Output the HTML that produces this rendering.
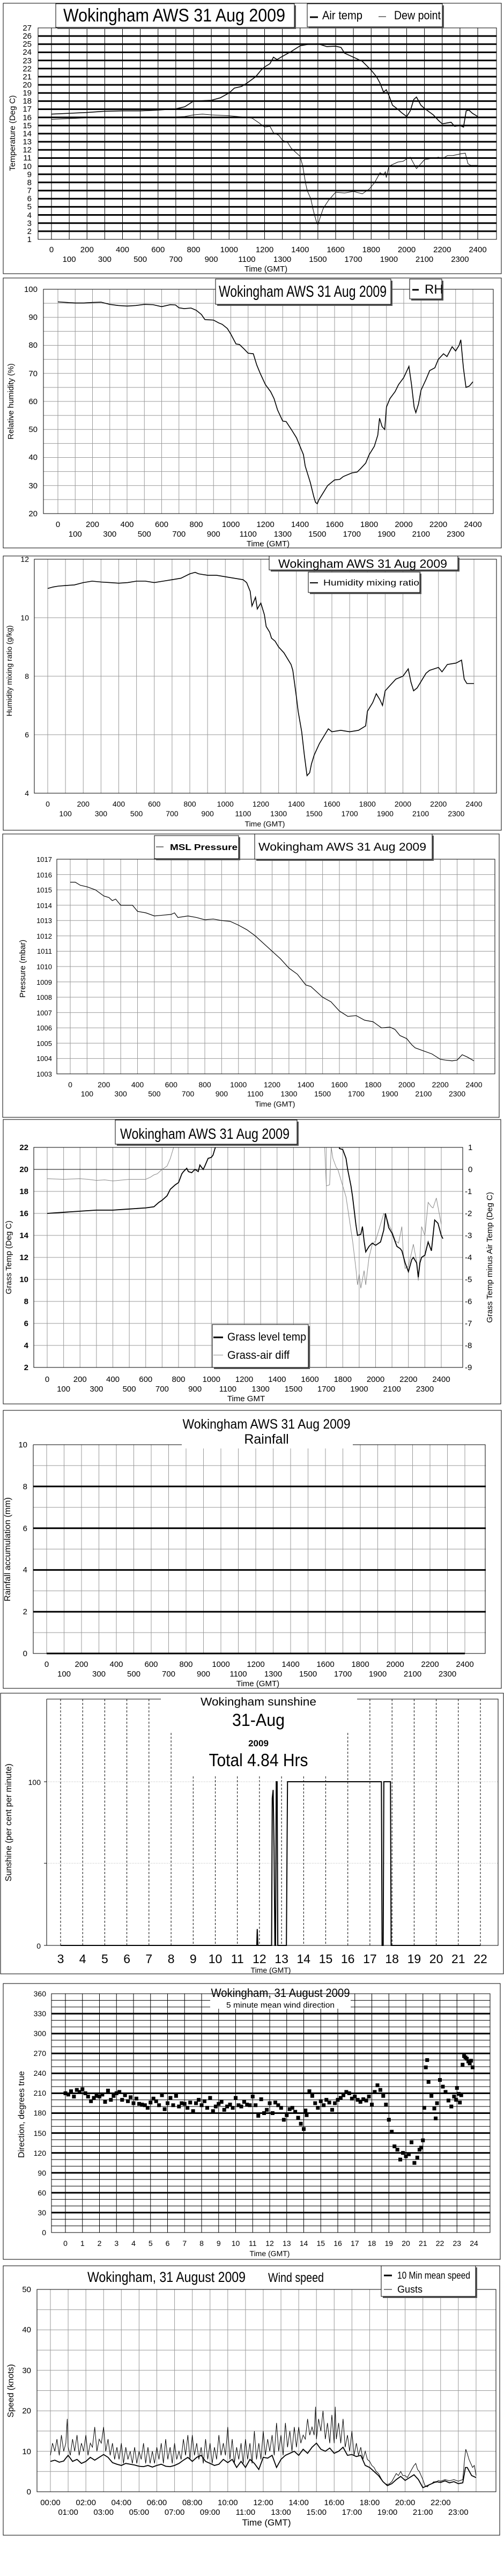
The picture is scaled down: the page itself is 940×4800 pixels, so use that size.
<!DOCTYPE html>
<html><head><meta charset="utf-8"><style>
html,body{margin:0;padding:0;background:#fff}
svg{display:block}
text{font-family:"Liberation Sans Narrow","Liberation Sans",sans-serif;fill:#000}
.s{font-family:"Liberation Sans",sans-serif}
polyline,path{vector-effect:non-scaling-stroke}
.g{stroke:#999;stroke-width:1;fill:none}
.k{stroke:#000;fill:none}
</style></head><body>
<svg width="940" height="4800" viewBox="0 0 940 4800" xmlns="http://www.w3.org/2000/svg">
<defs>
<clipPath id="c5"><rect x="63" y="2138" width="800" height="410"/></clipPath>
</defs>
<rect width="940" height="4800" fill="#fff"/>

<!-- ===== Panel 1: Temperature ===== -->
<rect x="6" y="6" width="929" height="504" class="k" stroke-width="1"/>
<rect x="71" y="52" width="855" height="394" class="k" stroke-width="1"/>
<g transform="translate(96,461.154) scale(33.125,-15.154)">
<path class="k" stroke-width="1" d="M0 1V27M1 1V27M2 1V27M3 1V27M4 1V27M5 1V27M6 1V27M7 1V27M8 1V27M9 1V27M10 1V27M11 1V27M12 1V27M13 1V27M14 1V27M15 1V27M16 1V27M17 1V27M18 1V27M19 1V27M20 1V27M21 1V27M22 1V27M23 1V27M24 1V27"/>
<path class="k" stroke-width="3" d="M-0.755 2H25.06M-0.755 3H25.06M-0.755 4H25.06M-0.755 5H25.06M-0.755 6H25.06M-0.755 7H25.06M-0.755 8H25.06M-0.755 9H25.06M-0.755 10H25.06M-0.755 11H25.06M-0.755 12H25.06M-0.755 13H25.06M-0.755 14H25.06M-0.755 15H25.06M-0.755 16H25.06M-0.755 17H25.06M-0.755 18H25.06M-0.755 19H25.06M-0.755 20H25.06M-0.755 21H25.06M-0.755 22H25.06M-0.755 23H25.06M-0.755 24H25.06M-0.755 25H25.06M-0.755 26H25.06"/>
<polyline class="k" stroke-width="1.6" points="0,16.4 1,16.5 2,16.6 3,16.75 4,16.8 5,16.8 6,16.9 7,17.05 7.5,17.3 8,18 8.5,18.05 9,18.1 9.5,18.4 10,19 10.3,19.6 10.7,19.8 11,20.2 11.5,21 11.8,21.8 12,22.2 12.3,22.6 12.5,23.4 12.7,23.1 13,23.5 13.5,24.1 14,24.8 14.5,25.0 15,25.05 15.5,24.7 16,24.75 16.3,24.6 16.5,23.9 17,23.4 17.5,22.9 18,21.8 18.3,21 18.5,20.2 18.7,19.1 18.85,19.4 19,18.7 19.2,17.5 19.5,17 19.7,16.6 20,16.1 20.2,16.8 20.4,18.2 20.55,18.5 20.8,17.5 21,17.1 21.5,16.3 21.8,15.6 22,15.2 22.5,15.4 22.7,14.9 23,15 23.2,14.8 23.35,16.8 23.5,16.9 23.7,16.5 24,16.1"/>
<polyline class="k" stroke-width="1" points="0,15.75 1,15.85 2,15.95 3,15.95 4,15.95 5,15.95 6,16 7,16.05 7.5,16.1 8,16.3 8.5,16.4 9,16.3 10,16.2 11,16.0 11.3,15.9 11.7,15.3 12,14.8 12.3,14.9 12.5,14.1 12.8,13.8 13,13.2 13.3,12.9 13.5,12.2 14,11.2 14.15,10 14.3,8 14.4,7 14.6,6 14.75,4.5 14.9,3.3 15,2.8 15.1,3.5 15.3,4.8 15.6,5.8 15.8,6.3 16,6.8 16.5,6.7 17,6.9 17.5,6.6 17.9,7.2 18.2,8 18.5,9.2 18.7,8.9 18.8,9.3 18.85,8.6 19,10 19.5,10.5 19.8,10.6 20,10.9 20.2,11.1 20.4,10.3 20.55,9.7 20.8,10.3 21,10.8 21.5,11 21.8,11.1 22,10.9 22.3,11.3 22.6,11.3 23,11.5 23.3,11.6 23.45,10.3 23.6,10.1 24,10.1"/>
</g>
<g font-size="15" text-anchor="end">
<text x="59" y="451">1</text><text x="59" y="436">2</text><text x="59" y="421">3</text><text x="59" y="406">4</text><text x="59" y="390">5</text><text x="59" y="375">6</text><text x="59" y="360">7</text><text x="59" y="345">8</text><text x="59" y="330">9</text><text x="59" y="315">10</text><text x="59" y="299">11</text><text x="59" y="284">12</text><text x="59" y="269">13</text><text x="59" y="254">14</text><text x="59" y="239">15</text><text x="59" y="224">16</text><text x="59" y="208">17</text><text x="59" y="193">18</text><text x="59" y="178">19</text><text x="59" y="163">20</text><text x="59" y="148">21</text><text x="59" y="133">22</text><text x="59" y="118">23</text><text x="59" y="102">24</text><text x="59" y="87">25</text><text x="59" y="72">26</text><text x="59" y="57">27</text>
</g>
<g font-size="15" text-anchor="middle">
<text x="96" y="470">0</text><text x="162.3" y="470">200</text><text x="228.5" y="470">400</text><text x="294.8" y="470">600</text><text x="361" y="470">800</text><text x="427.3" y="470">1000</text><text x="493.5" y="470">1200</text><text x="559.8" y="470">1400</text><text x="626" y="470">1600</text><text x="692.3" y="470">1800</text><text x="758.5" y="470">2000</text><text x="824.8" y="470">2200</text><text x="891" y="470">2400</text>
<text x="129.1" y="488">100</text><text x="195.4" y="488">300</text><text x="261.6" y="488">500</text><text x="327.9" y="488">700</text><text x="394.1" y="488">900</text><text x="460.4" y="488">1100</text><text x="526.6" y="488">1300</text><text x="592.9" y="488">1500</text><text x="659.1" y="488">1700</text><text x="725.4" y="488">1900</text><text x="791.6" y="488">2100</text><text x="857.9" y="488">2300</text>
<text x="496" y="506">Time (GMT)</text>
</g>
<text class="s" font-size="15" text-anchor="middle" transform="translate(28,248) rotate(-90)">Temperature (Deg C)</text>
<rect x="107" y="10" width="445" height="44" fill="#555"/>
<rect x="104" y="7" width="445" height="44" fill="#fff" stroke="#000"/>
<text x="118" y="40" font-size="34" textLength="414" lengthAdjust="spacingAndGlyphs">Wokingham AWS 31 Aug 2009</text>
<rect x="576" y="10" width="252" height="43" fill="#555"/>
<rect x="573" y="7" width="252" height="43" fill="#fff" stroke="#000"/>
<line x1="578" y1="32" x2="593" y2="32" stroke="#000" stroke-width="3"/>
<text x="601" y="36" font-size="22" textLength="75" lengthAdjust="spacingAndGlyphs">Air temp</text>
<line x1="706" y1="31" x2="720" y2="31" stroke="#000" stroke-width="1"/>
<text x="735" y="36" font-size="22" textLength="87" lengthAdjust="spacingAndGlyphs">Dew point</text>

<!-- ===== Panel 2: RH ===== -->
<rect x="6" y="518" width="929" height="503" class="k"/>
<g transform="translate(108,1061.5) scale(32.25,-5.225)">
<path class="g" d="M0 20V100M1 20V100M2 20V100M3 20V100M4 20V100M5 20V100M6 20V100M7 20V100M8 20V100M9 20V100M10 20V100M11 20V100M12 20V100M13 20V100M14 20V100M15 20V100M16 20V100M17 20V100M18 20V100M19 20V100M20 20V100M21 20V100M22 20V100M23 20V100M24 20V100M-0.84 25H25.18M-0.84 30H25.18M-0.84 35H25.18M-0.84 40H25.18M-0.84 45H25.18M-0.84 50H25.18M-0.84 55H25.18M-0.84 60H25.18M-0.84 65H25.18M-0.84 70H25.18M-0.84 75H25.18M-0.84 80H25.18M-0.84 85H25.18M-0.84 90H25.18M-0.84 95H25.18"/>
<polyline class="k" stroke-width="1.6" points="0,95.5 0.5,95.3 1,95.1 1.5,95.1 2,95.3 2.5,95.4 3,94.6 3.5,94.2 4,94 4.5,94.2 5,94.6 5.5,94.5 6,93.8 6.5,94.5 6.8,94.4 7,93.4 7.3,93.1 7.7,93.3 8,92.5 8.3,91 8.5,89.2 9,89 9.3,88 9.5,87.5 9.8,86 10,84 10.3,80.5 10.5,80.3 10.8,78.5 11,77.2 11.3,77 11.5,73 11.7,70 12,66 12.3,63.5 12.5,61 12.7,57 13,53 13.2,52.8 13.5,50 13.8,47 14,44 14.2,41 14.3,37 14.5,33 14.6,31 14.8,26 14.9,24 15,23.5 15.1,25 15.3,27 15.6,30 16,32 16.3,32.2 16.5,33.2 17,34.5 17.3,34.8 17.5,36 17.8,38 18,41 18.3,44 18.5,48 18.6,54 18.75,51 18.9,50 19,58 19.2,61 19.5,63.5 19.7,66 20,68.5 20.3,72.5 20.45,66 20.6,58 20.7,56 20.85,59 21,64 21.3,68 21.5,71 21.8,72 22,75 22.3,77 22.5,76 22.8,79.5 23,78 23.2,80 23.3,82 23.45,72 23.6,65 23.8,65.5 24,67"/>
</g>
<rect x="81" y="539" width="839" height="418" class="k"/>
<g font-size="15" text-anchor="end">
<text x="70" y="962">20</text><text x="70" y="910">30</text><text x="70" y="857">40</text><text x="70" y="805">50</text><text x="70" y="753">60</text><text x="70" y="701">70</text><text x="70" y="648">80</text><text x="70" y="596">90</text><text x="70" y="544">100</text>
</g>
<g font-size="15" text-anchor="middle">
<text x="108" y="982">0</text><text x="172.5" y="982">200</text><text x="237" y="982">400</text><text x="301.5" y="982">600</text><text x="366" y="982">800</text><text x="430.5" y="982">1000</text><text x="495" y="982">1200</text><text x="559.5" y="982">1400</text><text x="624" y="982">1600</text><text x="688.5" y="982">1800</text><text x="753" y="982">2000</text><text x="817.5" y="982">2200</text><text x="882" y="982">2400</text>
<text x="140.25" y="1000">100</text><text x="204.75" y="1000">300</text><text x="269.25" y="1000">500</text><text x="333.75" y="1000">700</text><text x="398.25" y="1000">900</text><text x="462.75" y="1000">1100</text><text x="527.25" y="1000">1300</text><text x="591.75" y="1000">1500</text><text x="656.25" y="1000">1700</text><text x="720.75" y="1000">1900</text><text x="785.25" y="1000">2100</text><text x="849.75" y="1000">2300</text>
<text x="500" y="1018">Time (GMT)</text>
</g>
<text class="s" font-size="15" text-anchor="middle" transform="translate(25,748) rotate(-90)">Relative humidity (%)</text>
<rect x="405" y="523" width="327" height="47" fill="#555"/>
<rect x="402" y="520" width="327" height="47" fill="#fff" stroke="#000"/>
<text x="408" y="553" font-size="30" textLength="313" lengthAdjust="spacingAndGlyphs">Wokingham AWS 31 Aug 2009</text>
<rect x="767" y="523" width="60" height="37" fill="#555"/>
<rect x="764" y="520" width="60" height="37" fill="#fff" stroke="#000"/>
<line x1="769" y1="540" x2="781" y2="540" stroke="#000" stroke-width="3"/>
<text x="792" y="547" font-size="24">RH</text>

<!-- ===== Panel 3: Mixing ratio ===== -->
<rect x="6" y="1036" width="929" height="511" class="k"/>
<g transform="translate(89,1696) scale(33.125,-54.5)">
<path class="g" d="M0 4V12M1 4V12M2 4V12M3 4V12M4 4V12M5 4V12M6 4V12M7 4V12M8 4V12M9 4V12M10 4V12M11 4V12M12 4V12M13 4V12M14 4V12M15 4V12M16 4V12M17 4V12M18 4V12M19 4V12M20 4V12M21 4V12M22 4V12M23 4V12M24 4V12M-0.76 6H25.27M-0.76 8H25.27M-0.76 10H25.27"/>
<polyline class="k" stroke-width="1.6" points="0,11 0.3,11.05 0.6,11.08 1,11.1 1.5,11.12 2,11.2 2.5,11.25 3,11.22 3.5,11.2 4,11.18 4.5,11.2 5,11.25 5.5,11.25 6,11.2 6.5,11.25 7,11.3 7.5,11.35 8,11.5 8.3,11.55 8.5,11.5 9,11.45 9.5,11.45 10,11.4 10.5,11.35 11,11.3 11.2,11.2 11.4,10.9 11.5,10.4 11.7,10.7 11.8,10.3 12,10.5 12.2,10.1 12.3,9.7 12.5,9.5 12.6,9.3 12.8,9.2 13,9.0 13.3,8.8 13.5,8.6 13.7,8.4 13.8,8.2 14,7.3 14.1,6.8 14.3,6.1 14.45,5.3 14.6,4.6 14.75,4.7 14.85,5.0 15,5.3 15.3,5.7 15.6,6.0 15.8,6.2 16,6.1 16.5,6.15 17,6.1 17.5,6.15 17.9,6.3 18,6.8 18.3,7.1 18.5,7.4 18.7,7.2 18.85,7.0 19,7.5 19.3,7.7 19.6,7.9 20,8.0 20.3,8.25 20.45,7.8 20.6,7.5 20.8,7.6 21,7.8 21.3,8.1 21.5,8.2 22,8.3 22.2,8.15 22.5,8.4 23,8.45 23.3,8.55 23.45,7.9 23.6,7.75 24,7.75"/>
</g>
<rect x="64" y="1042" width="862" height="436" class="k"/>
<g font-size="14" text-anchor="end">
<text x="54" y="1483">4</text><text x="54" y="1374">6</text><text x="54" y="1265">8</text><text x="54" y="1156">10</text><text x="54" y="1047">12</text>
</g>
<g font-size="14" text-anchor="middle">
<text x="89" y="1503">0</text><text x="155.25" y="1503">200</text><text x="221.5" y="1503">400</text><text x="287.75" y="1503">600</text><text x="354" y="1503">800</text><text x="420.25" y="1503">1000</text><text x="486.5" y="1503">1200</text><text x="552.75" y="1503">1400</text><text x="619" y="1503">1600</text><text x="685.25" y="1503">1800</text><text x="751.5" y="1503">2000</text><text x="817.75" y="1503">2200</text><text x="884" y="1503">2400</text>
<text x="122.1" y="1521">100</text><text x="188.4" y="1521">300</text><text x="254.6" y="1521">500</text><text x="320.9" y="1521">700</text><text x="387.1" y="1521">900</text><text x="453.4" y="1521">1100</text><text x="519.6" y="1521">1300</text><text x="585.9" y="1521">1500</text><text x="652.1" y="1521">1700</text><text x="718.4" y="1521">1900</text><text x="784.6" y="1521">2100</text><text x="850.9" y="1521">2300</text>
<text x="494" y="1540">Time (GMT)</text>
</g>
<text font-size="14" text-anchor="middle" transform="translate(22,1250) rotate(-90)">Humidity mixing ratio (g/kg)</text>
<rect x="505" y="1039" width="352" height="26" fill="#555"/>
<rect x="502" y="1036" width="352" height="26" fill="#fff" stroke="#000"/>
<text class="s" x="519" y="1058" font-size="22" textLength="315" lengthAdjust="spacingAndGlyphs">Wokingham AWS 31 Aug 2009</text>
<rect x="578" y="1069" width="208" height="38" fill="#555"/>
<rect x="575" y="1066" width="208" height="38" fill="#fff" stroke="#000"/>
<line x1="578" y1="1086" x2="593" y2="1086" stroke="#000" stroke-width="2"/>
<text class="s" x="603" y="1091" font-size="16" textLength="179" lengthAdjust="spacingAndGlyphs">Humidity mixing ratio</text>

<!-- ===== Panel 4: Pressure ===== -->
<rect x="5" y="1554" width="926" height="528" class="k"/>
<g transform="translate(131,2001) scale(31.375,-28.57) translate(0,-1003)">
<path class="g" d="M0 1003V1017M1 1003V1017M2 1003V1017M3 1003V1017M4 1003V1017M5 1003V1017M6 1003V1017M7 1003V1017M8 1003V1017M9 1003V1017M10 1003V1017M11 1003V1017M12 1003V1017M13 1003V1017M14 1003V1017M15 1003V1017M16 1003V1017M17 1003V1017M18 1003V1017M19 1003V1017M20 1003V1017M21 1003V1017M22 1003V1017M23 1003V1017M24 1003V1017M-0.8 1004H25.24M-0.8 1005H25.24M-0.8 1006H25.24M-0.8 1007H25.24M-0.8 1008H25.24M-0.8 1009H25.24M-0.8 1010H25.24M-0.8 1011H25.24M-0.8 1012H25.24M-0.8 1013H25.24M-0.8 1014H25.24M-0.8 1015H25.24M-0.8 1016H25.24"/>
<polyline class="k" stroke-width="1.2" points="0,1015.5 0.3,1015.5 0.6,1015.3 1,1015.2 1.5,1015 2,1014.6 2.3,1014.5 2.5,1014.3 2.7,1014.4 3,1014 3.5,1014 3.7,1014 4,1013.6 4.5,1013.5 5,1013.3 5.5,1013.35 6,1013.4 6.2,1013.5 6.4,1013.2 7,1013.3 7.5,1013.2 8,1013.05 8.5,1013.1 9,1013 9.5,1012.95 10,1012.7 10.5,1012.4 11,1012 11.5,1011.5 12,1011 12.5,1010.5 13,1009.9 13.5,1009.5 14,1008.8 14.3,1008.7 14.5,1008.5 15,1008 15.5,1007.7 16,1007.1 16.5,1006.75 17,1006.8 17.5,1006.5 18,1006.4 18.5,1006 19,1006.05 19.3,1005.9 19.6,1005.5 20,1005.3 20.3,1004.9 20.5,1004.7 21,1004.5 21.5,1004.3 22,1003.95 22.3,1003.9 22.7,1003.85 23,1003.9 23.3,1004.25 23.6,1004.1 24,1003.85"/>
</g>
<rect x="106" y="1601" width="817" height="400" class="k"/>
<g font-size="13" text-anchor="end">
<text x="97" y="2006">1003</text><text x="97" y="1977">1004</text><text x="97" y="1949">1005</text><text x="97" y="1920">1006</text><text x="97" y="1892">1007</text><text x="97" y="1863">1008</text><text x="97" y="1835">1009</text><text x="97" y="1806">1010</text><text x="97" y="1777">1011</text><text x="97" y="1749">1012</text><text x="97" y="1720">1013</text><text x="97" y="1692">1014</text><text x="97" y="1663">1015</text><text x="97" y="1635">1016</text><text x="97" y="1606">1017</text>
</g>
<g font-size="14" text-anchor="middle">
<text x="131" y="2026">0</text><text x="193.75" y="2026">200</text><text x="256.5" y="2026">400</text><text x="319.25" y="2026">600</text><text x="382" y="2026">800</text><text x="444.75" y="2026">1000</text><text x="507.5" y="2026">1200</text><text x="570.25" y="2026">1400</text><text x="633" y="2026">1600</text><text x="695.75" y="2026">1800</text><text x="758.5" y="2026">2000</text><text x="821.25" y="2026">2200</text><text x="884" y="2026">2400</text>
<text x="162.4" y="2043">100</text><text x="225.1" y="2043">300</text><text x="287.9" y="2043">500</text><text x="350.6" y="2043">700</text><text x="413.4" y="2043">900</text><text x="476.1" y="2043">1100</text><text x="538.9" y="2043">1300</text><text x="601.6" y="2043">1500</text><text x="664.4" y="2043">1700</text><text x="727.1" y="2043">1900</text><text x="789.9" y="2043">2100</text><text x="852.6" y="2043">2300</text>
<text x="513" y="2062">Time (GMT)</text>
</g>
<text font-size="15" text-anchor="middle" transform="translate(47,1805) rotate(-90)">Pressure (mbar)</text>
<rect x="478" y="1557" width="331" height="47" fill="#555"/>
<rect x="475" y="1554" width="331" height="47" fill="#fff" stroke="#000"/>
<text class="s" x="482" y="1585" font-size="21" textLength="313" lengthAdjust="spacingAndGlyphs">Wokingham AWS 31 Aug 2009</text>
<rect x="291" y="1560" width="157" height="43" fill="#555"/>
<rect x="288" y="1557" width="157" height="43" fill="#fff" stroke="#000"/>
<line x1="291" y1="1578" x2="305" y2="1578" stroke="#000" stroke-width="1"/>
<text class="s" x="317" y="1584" font-size="16" font-weight="bold" textLength="126" lengthAdjust="spacingAndGlyphs">MSL Pressure</text>

<!-- ===== Panel 5: Grass ===== -->
<rect x="6" y="2086" width="928" height="530" class="k"/>
<g transform="translate(88,2589) scale(30.625,-20.5)">
<path class="g" d="M0 2V22M1 2V22M2 2V22M3 2V22M4 2V22M5 2V22M6 2V22M7 2V22M8 2V22M9 2V22M10 2V22M11 2V22M12 2V22M13 2V22M14 2V22M15 2V22M16 2V22M17 2V22M18 2V22M19 2V22M20 2V22M21 2V22M22 2V22M23 2V22M24 2V22M-0.82 4H25.3M-0.82 6H25.3M-0.82 8H25.3M-0.82 10H25.3M-0.82 12H25.3M-0.82 14H25.3M-0.82 16H25.3M-0.82 18H25.3"/>
<path class="k" stroke-width="1" d="M-0.82 20H25.3"/>
</g>
<g clip-path="url(#c5)">
<g transform="translate(88,2589) scale(30.625,-20.5)">
<polyline fill="none" stroke="#888" stroke-width="1" points="0,19.15 1,19.1 2,19.15 2.5,19.1 3,19.0 3.5,19.05 4,18.95 5,19.1 6,19.1 6.3,19.3 6.5,19.5 6.7,19.6 7,20 7.3,20.3 7.5,21 7.7,22 7.9,23 8,24 16.7,24 16.9,22 17,18.5 17.2,18.6 17.3,22 17.4,21 17.6,20.2 17.7,20 17.9,19 18,18.5 18.2,17.5 18.3,16.5 18.5,14.5 18.6,13.5 18.8,11 18.9,9.5 19,10.5 19.1,9.2 19.3,10.8 19.4,9.5 19.6,12 19.8,13.2 20,13.5 20.2,14.5 20.5,16 20.7,15.5 20.8,15 21,14.4 21.2,13.5 21.4,13.3 21.6,14.8 21.7,12 21.8,11 22,11.2 22.2,12.5 22.3,13.2 22.5,11.6 22.6,9.9 22.7,12 22.8,14.8 23,14 23.2,17 23.4,16.6 23.5,16.5 23.7,17.4 23.9,15.8 24,15"/>
<polyline class="k" stroke-width="1.8" points="0,16 1,16.1 2,16.2 3,16.3 4,16.3 5,16.4 6,16.5 6.5,16.6 6.8,17 7,17.2 7.3,17.6 7.5,18.2 7.8,18.6 8,18.8 8.2,19.6 8.3,19.8 8.5,20.1 8.6,19.8 8.8,19.7 9,20 9.2,19.8 9.3,20.4 9.5,20 9.6,20.3 9.8,21 10,21.1 10.1,21.3 10.3,22.3 10.5,24 17.6,24 17.8,21.9 18,21.8 18.2,21 18.3,20 18.5,18.5 18.6,17.5 18.8,15 18.9,14 19.1,14.1 19.2,14.8 19.3,13.5 19.4,12.5 19.6,13 19.8,13.3 20,13.1 20.3,13.4 20.5,14.5 20.6,16 20.8,14.7 21,14.2 21.3,13 21.5,12.8 21.6,12.6 21.8,11.5 22,10.7 22.2,11.8 22.3,12 22.5,11.5 22.6,10.2 22.7,11.5 22.8,12 23,12.2 23.2,13.4 23.4,12.6 23.6,15.4 23.8,15.1 24,14 24.1,13.7"/>
</g>
</g>
<rect x="63" y="2138" width="800" height="410" class="k"/>
<g font-size="15" font-weight="bold" text-anchor="end">
<text x="53" y="2553">2</text><text x="53" y="2512">4</text><text x="53" y="2471">6</text><text x="53" y="2430">8</text><text x="53" y="2389">10</text><text x="53" y="2348">12</text><text x="53" y="2307">14</text><text x="53" y="2266">16</text><text x="53" y="2225">18</text><text x="53" y="2184">20</text><text x="53" y="2143">22</text>
</g>
<g font-size="15">
<text x="873" y="2143">1</text><text x="873" y="2184">0</text><text x="867" y="2225">-1</text><text x="867" y="2266">-2</text><text x="867" y="2307">-3</text><text x="867" y="2348">-4</text><text x="867" y="2389">-5</text><text x="867" y="2430">-6</text><text x="867" y="2471">-7</text><text x="867" y="2512">-8</text><text x="867" y="2553">-9</text>
</g>
<g font-size="15" text-anchor="middle">
<text x="88" y="2575">0</text><text x="149.25" y="2575">200</text><text x="210.5" y="2575">400</text><text x="271.75" y="2575">600</text><text x="333" y="2575">800</text><text x="394.25" y="2575">1000</text><text x="455.5" y="2575">1200</text><text x="516.75" y="2575">1400</text><text x="578" y="2575">1600</text><text x="639.25" y="2575">1800</text><text x="700.5" y="2575">2000</text><text x="761.75" y="2575">2200</text><text x="823" y="2575">2400</text>
<text x="118.6" y="2593">100</text><text x="179.9" y="2593">300</text><text x="241.1" y="2593">500</text><text x="302.4" y="2593">700</text><text x="363.6" y="2593">900</text><text x="424.9" y="2593">1100</text><text x="486.1" y="2593">1300</text><text x="547.4" y="2593">1500</text><text x="608.6" y="2593">1700</text><text x="669.9" y="2593">1900</text><text x="731.1" y="2593">2100</text><text x="792.4" y="2593">2300</text>
<text x="459" y="2611">Time GMT</text>
</g>
<text class="s" font-size="15" text-anchor="middle" transform="translate(21,2343) rotate(-90)">Grass Temp (Deg C)</text>
<text class="s" font-size="15" text-anchor="middle" transform="translate(918,2343) rotate(-90)">Grass Temp minus Air Temp (Deg C)</text>
<rect x="218" y="2090" width="339" height="45" fill="#555"/>
<rect x="215" y="2087" width="339" height="45" fill="#fff" stroke="#000"/>
<text x="224" y="2122" font-size="28" textLength="316" lengthAdjust="spacingAndGlyphs">Wokingham AWS 31 Aug 2009</text>
<rect x="399" y="2471" width="179" height="80" fill="#555"/>
<rect x="396" y="2468" width="179" height="80" fill="#fff" stroke="#000"/>
<line x1="398" y1="2492" x2="416" y2="2492" stroke="#000" stroke-width="3"/>
<text x="424" y="2498" font-size="21" textLength="147" lengthAdjust="spacingAndGlyphs">Grass level temp</text>
<line x1="398" y1="2525" x2="416" y2="2525" stroke="#888" stroke-width="1"/>
<text x="424" y="2532" font-size="21" textLength="116" lengthAdjust="spacingAndGlyphs">Grass-air diff</text>

<!-- ===== Panel 6: Rainfall ===== -->
<rect x="6" y="2628" width="929" height="518" class="k"/>
<g transform="translate(87,3081) scale(32.5,-38.9)">
<path class="g" d="M0 0V10M1 0V10M2 0V10M3 0V10M4 0V10M5 0V10M6 0V10M7 0V10M8 0V10M9 0V10M10 0V10M11 0V10M12 0V10M13 0V10M14 0V10M15 0V10M16 0V10M17 0V10M18 0V10M19 0V10M20 0V10M21 0V10M22 0V10M23 0V10M24 0V10M-0.77 1H25.2M-0.77 3H25.2M-0.77 5H25.2M-0.77 7H25.2M-0.77 9H25.2"/>
<path class="k" stroke-width="3" d="M-0.77 2H25.2M-0.77 4H25.2M-0.77 6H25.2M-0.77 8H25.2M0 0H24"/>
</g>
<rect x="339" y="2686" width="319" height="13" fill="#fff"/>
<path class="k" stroke-width="1" d="M62 2692V3081H905V2692H658M339 2692H62"/>
<g font-size="15" text-anchor="end">
<text x="51" y="3086">0</text><text x="51" y="3008">2</text><text x="51" y="2930">4</text><text x="51" y="2853">6</text><text x="51" y="2775">8</text><text x="51" y="2697">10</text>
</g>
<g font-size="15" text-anchor="middle">
<text x="87" y="3106">0</text><text x="152" y="3106">200</text><text x="217" y="3106">400</text><text x="282" y="3106">600</text><text x="347" y="3106">800</text><text x="412" y="3106">1000</text><text x="477" y="3106">1200</text><text x="542" y="3106">1400</text><text x="607" y="3106">1600</text><text x="672" y="3106">1800</text><text x="737" y="3106">2000</text><text x="802" y="3106">2200</text><text x="867" y="3106">2400</text>
<text x="119.5" y="3124">100</text><text x="184.5" y="3124">300</text><text x="249.5" y="3124">500</text><text x="314.5" y="3124">700</text><text x="379.5" y="3124">900</text><text x="444.5" y="3124">1100</text><text x="509.5" y="3124">1300</text><text x="574.5" y="3124">1500</text><text x="639.5" y="3124">1700</text><text x="704.5" y="3124">1900</text><text x="769.5" y="3124">2100</text><text x="834.5" y="3124">2300</text>
<text x="481" y="3142">Time (GMT)</text>
</g>
<text class="s" font-size="16" text-anchor="middle" transform="translate(19,2887) rotate(-90)">Rainfall accumulation (mm)</text>
<text x="497" y="2662" font-size="25" text-anchor="middle" textLength="313" lengthAdjust="spacingAndGlyphs">Wokingham AWS 31 Aug 2009</text>
<text x="497" y="2690" font-size="25" text-anchor="middle">Rainfall</text>

<!-- ===== Panel 7: Sunshine ===== -->
<rect x="1" y="3155" width="938" height="523" class="k"/>
<g stroke="#000" stroke-width="1" stroke-dasharray="4,3">
<path d="M113 3166V3625M154.2 3166V3625M195.4 3166V3625M236.6 3166V3625M277.8 3166V3625M319.1 3229V3625M360.3 3310V3625M401.5 3310V3625M442.7 3310V3625M483.9 3310V3625M525.1 3310V3625M566.3 3310V3625M607.5 3310V3625M648.7 3229V3625M689.9 3166V3625M731.2 3166V3625M772.4 3166V3625M813.6 3166V3625M854.8 3166V3625M896 3166V3625"/>
</g>
<path d="M87 3320H929M87 3472H929" stroke="#aaa" stroke-width="1" stroke-dasharray="1,2"/>
<path class="k" stroke-width="1" d="M87 3166V3625H929V3166H666M300 3166H87"/>
<path class="k" d="M82 3320H87M82 3472H87M82 3625H87"/>
<g transform="translate(-10.63,3625) scale(41.21,-3.05)">
<polyline class="k" stroke-width="2" points="3,0 11.88,0 11.9,10 11.93,0 12.55,0 12.58,90 12.62,95 12.66,60 12.7,0 12.73,0 12.76,100 12.8,100 12.83,0 13.22,0 13.27,100 17.52,100 17.55,0 17.6,0 17.63,100 17.93,100 17.96,0 22,0"/>
</g>
<g font-size="14" text-anchor="end"><text x="76" y="3326">100</text><text x="76" y="3631">0</text></g>
<g font-size="23" text-anchor="middle">
<text x="113" y="3658">3</text><text x="154.2" y="3658">4</text><text x="195.4" y="3658">5</text><text x="236.6" y="3658">6</text><text x="277.8" y="3658">7</text><text x="319.1" y="3658">8</text><text x="360.3" y="3658">9</text><text x="401.5" y="3658">10</text><text x="442.7" y="3658">11</text><text x="483.9" y="3658">12</text><text x="525.1" y="3658">13</text><text x="566.3" y="3658">14</text><text x="607.5" y="3658">15</text><text x="648.7" y="3658">16</text><text x="689.9" y="3658">17</text><text x="731.2" y="3658">18</text><text x="772.4" y="3658">19</text><text x="813.6" y="3658">20</text><text x="854.8" y="3658">21</text><text x="896" y="3658">22</text>
</g>
<text x="505" y="3676" font-size="14" text-anchor="middle">Time (GMT)</text>
<text class="s" font-size="16" text-anchor="middle" transform="translate(21,3396) rotate(-90)">Sunshine (per cent per minute)</text>
<text x="482" y="3178" font-size="21" text-anchor="middle" textLength="216" lengthAdjust="spacingAndGlyphs">Wokingham sunshine</text>
<text x="482" y="3216" font-size="32" text-anchor="middle" textLength="98" lengthAdjust="spacingAndGlyphs">31-Aug</text>
<text x="482" y="3254" font-size="17" font-weight="bold" text-anchor="middle">2009</text>
<text x="482" y="3291" font-size="33" text-anchor="middle" textLength="185" lengthAdjust="spacingAndGlyphs">Total 4.84 Hrs</text>

<!-- ===== Panel 8: Wind direction ===== -->
<rect x="6" y="3696" width="927" height="514" class="k"/>
<g transform="translate(122,4160) scale(31.75,-1.236)">
<path class="k" stroke-width="1" d="M0 0V360M1 0V360M2 0V360M3 0V360M4 0V360M5 0V360M6 0V360M7 0V360M8 0V360M9 0V360M10 0V360M11 0V360M12 0V360M13 0V360M14 0V360M15 0V360M16 0V360M17 0V360M18 0V360M19 0V360M20 0V360M21 0V360M22 0V360M23 0V360M24 0V360M-0.82 10H24.94M-0.82 20H24.94M-0.82 40H24.94M-0.82 50H24.94M-0.82 70H24.94M-0.82 80H24.94M-0.82 100H24.94M-0.82 110H24.94M-0.82 130H24.94M-0.82 140H24.94M-0.82 160H24.94M-0.82 170H24.94M-0.82 190H24.94M-0.82 200H24.94M-0.82 220H24.94M-0.82 230H24.94M-0.82 250H24.94M-0.82 260H24.94M-0.82 280H24.94M-0.82 290H24.94M-0.82 310H24.94M-0.82 320H24.94M-0.82 340H24.94M-0.82 350H24.94"/>
<path class="k" stroke-width="3" d="M-0.82 30H24.94M-0.82 60H24.94M-0.82 90H24.94M-0.82 120H24.94M-0.82 150H24.94M-0.82 180H24.94M-0.82 210H24.94M-0.82 240H24.94M-0.82 270H24.94M-0.82 300H24.94M-0.82 330H24.94"/>
</g>
<rect x="392" y="3716" width="262" height="27" fill="#fff"/>
<rect x="96" y="3715" width="818" height="445" class="k"/>
<g transform="translate(122,4160) scale(31.75,-1.236)">
<path fill="none" stroke="#000" stroke-width="7" stroke-linecap="square" d="M0 210h0.001M0.17 208h0.001M0.33 213h0.001M0.5 205h0.001M0.67 215h0.001M0.83 212h0.001M1 216h0.001M1.17 210h0.001M1.33 205h0.001M1.5 198h0.001M1.67 203h0.001M1.83 206h0.001M2 205h0.001M2.17 208h0.001M2.33 197h0.001M2.5 214h0.001M2.67 200h0.001M2.83 206h0.001M3 210h0.001M3.17 212h0.001M3.33 200h0.001M3.5 207h0.001M3.67 198h0.001M3.83 204h0.001M4 195h0.001M4.17 202h0.001M4.33 194h0.001M4.5 193h0.001M4.67 192h0.001M4.83 188h0.001M5 196h0.001M5.17 202h0.001M5.33 198h0.001M5.5 192h0.001M5.67 207h0.001M5.83 186h0.001M6 195h0.001M6.17 203h0.001M6.33 192h0.001M6.5 206h0.001M6.67 190h0.001M6.83 195h0.001M7 194h0.001M7.17 188h0.001M7.33 196h0.001M7.5 183h0.001M7.67 195h0.001M7.83 200h0.001M8 192h0.001M8.17 198h0.001M8.33 188h0.001M8.5 203h0.001M8.67 183h0.001M8.83 190h0.001M9 194h0.001M9.17 197h0.001M9.33 185h0.001M9.5 190h0.001M9.67 193h0.001M9.83 188h0.001M10 203h0.001M10.17 192h0.001M10.33 190h0.001M10.5 197h0.001M10.67 193h0.001M10.83 192h0.001M11 205h0.001M11.17 192h0.001M11.33 176h0.001M11.5 201h0.001M11.67 180h0.001M11.83 185h0.001M12 195h0.001M12.17 180h0.001M12.33 196h0.001M12.5 192h0.001M12.67 188h0.001M12.83 170h0.001M13 177h0.001M13.17 186h0.001M13.33 188h0.001M13.5 182h0.001M13.67 173h0.001M13.83 164h0.001M14 156h0.001M14.1 184h0.001M14.17 177h0.001M14.33 213h0.001M14.5 206h0.001M14.67 195h0.001M14.83 188h0.001M15 198h0.001M15.17 192h0.001M15.33 200h0.001M15.5 196h0.001M15.67 185h0.001M15.83 195h0.001M16 200h0.001M16.17 203h0.001M16.33 207h0.001M16.5 212h0.001M16.67 210h0.001M16.83 202h0.001M17 205h0.001M17.17 200h0.001M17.33 197h0.001M17.5 201h0.001M17.67 199h0.001M17.83 205h0.001M18 193h0.001M18.17 212h0.001M18.33 222h0.001M18.5 215h0.001M18.67 206h0.001M18.83 193h0.001M19 170h0.001M19.17 152h0.001M19.33 130h0.001M19.5 125h0.001M19.67 110h0.001M19.83 120h0.001M20 115h0.001M20.17 118h0.001M20.33 136h0.001M20.5 105h0.001M20.67 113h0.001M20.8 125h0.001M20.9 128h0.001M21 139h0.001M21.08 188h0.001M21.17 249h0.001M21.25 260h0.001M21.33 227h0.001M21.5 206h0.001M21.67 187h0.001M21.75 172h0.001M21.83 195h0.001M22 230h0.001M22.17 220h0.001M22.33 212h0.001M22.5 199h0.001M22.67 190h0.001M22.83 205h0.001M22.95 200h0.001M23 218h0.001M23.1 209h0.001M23.17 196h0.001M23.25 207h0.001M23.33 253h0.001M23.42 266h0.001M23.5 264h0.001M23.58 262h0.001M23.67 258h0.001M23.75 255h0.001M23.83 259h0.001M23.92 249h0.001"/>
</g>
<g font-size="14" text-anchor="end">
<text x="86" y="4165">0</text><text x="86" y="4128">30</text><text x="86" y="4091">60</text><text x="86" y="4054">90</text><text x="86" y="4017">120</text><text x="86" y="3980">150</text><text x="86" y="3942">180</text><text x="86" y="3905">210</text><text x="86" y="3868">240</text><text x="86" y="3831">270</text><text x="86" y="3794">300</text><text x="86" y="3757">330</text><text x="86" y="3720">360</text>
</g>
<g font-size="14" text-anchor="middle">
<text x="122" y="4185">0</text><text x="153.75" y="4185">1</text><text x="185.5" y="4185">2</text><text x="217.25" y="4185">3</text><text x="249" y="4185">4</text><text x="280.75" y="4185">5</text><text x="312.5" y="4185">6</text><text x="344.25" y="4185">7</text><text x="376" y="4185">8</text><text x="407.75" y="4185">9</text><text x="439.5" y="4185">10</text><text x="471.25" y="4185">11</text><text x="503" y="4185">12</text><text x="534.75" y="4185">13</text><text x="566.5" y="4185">14</text><text x="598.25" y="4185">15</text><text x="630" y="4185">16</text><text x="661.75" y="4185">17</text><text x="693.5" y="4185">18</text><text x="725.25" y="4185">19</text><text x="757" y="4185">20</text><text x="788.75" y="4185">21</text><text x="820.5" y="4185">22</text><text x="852.25" y="4185">23</text><text x="884" y="4185">24</text>
<text x="503" y="4204">Time (GMT)</text>
</g>
<text class="s" font-size="16" text-anchor="middle" transform="translate(45,3940) rotate(-90)">Direction, degrees true</text>
<text x="523" y="3721" font-size="22" text-anchor="middle" textLength="259" lengthAdjust="spacingAndGlyphs">Wokingham,  31 August 2009</text>
<text x="523" y="3741" font-size="15" text-anchor="middle" textLength="202" lengthAdjust="spacingAndGlyphs">5 minute mean wind direction</text>

<!-- ===== Panel 9: Wind speed ===== -->
<rect x="6" y="4222" width="926" height="502" class="k"/>
<g transform="translate(94,4643) scale(33.08,-7.54)">
<path class="g" d="M0 0V50M1 0V50M2 0V50M3 0V50M4 0V50M5 0V50M6 0V50M7 0V50M8 0V50M9 0V50M10 0V50M11 0V50M12 0V50M13 0V50M14 0V50M15 0V50M16 0V50M17 0V50M18 0V50M19 0V50M20 0V50M21 0V50M22 0V50M23 0V50M24 0V50M-0.76 5H25.12M-0.76 10H25.12M-0.76 15H25.12M-0.76 20H25.12M-0.76 25H25.12M-0.76 30H25.12M-0.76 35H25.12M-0.76 40H25.12M-0.76 45H25.12"/>
<polyline class="k" stroke-width="1" points="0,9 0.12,12 0.25,10 0.37,13 0.5,9 0.62,14 0.75,10 0.87,12 0.95,18 1,11 1.12,9 1.25,13 1.37,10 1.5,14 1.62,9 1.75,12 1.87,10 2,14 2.12,9 2.25,12 2.37,11 2.5,16 2.62,10 2.75,13 2.87,12 3,16 3.12,10 3.25,13 3.37,9 3.5,12 3.62,8 3.75,11 3.87,8 4,12 4.12,7 4.25,11 4.37,8 4.5,10 4.62,7 4.75,11 4.87,7 5,10 5.12,8 5.25,12 5.37,7 5.5,11 5.62,7 5.75,10 5.87,7 6,11 6.12,8 6.25,12 6.37,7 6.5,13 6.62,8 6.75,11 6.87,7 7,12 7.12,8 7.25,10 7.37,8 7.5,13 7.62,9 7.75,14 7.87,8 8,14 8.12,9 8.25,12 8.37,8 8.5,11 8.62,7 8.75,13 8.87,8 9,12 9.12,7 9.25,11 9.37,8 9.5,14 9.62,9 9.75,12 9.87,9 10,16 10.12,8 10.25,13 10.37,7 10.5,11 10.62,8 10.75,12 10.87,7 11,13 11.12,8 11.25,12 11.37,7 11.5,15 11.62,8 11.75,12 11.87,8 12,15 12.12,9 12.25,13 12.37,10 12.5,14 12.62,9 12.75,17 12.87,10 13,14 13.12,9 13.25,17 13.37,11 13.5,15 13.62,10 13.75,16 13.87,11 14,16 14.12,12 14.25,14 14.37,13 14.5,18 14.62,14 14.75,16 14.87,14 14.95,21 15,13 15.12,18 15.25,15 15.37,20 15.5,13 15.62,17 15.75,12 15.87,19 16,12 16.06,21 16.12,13 16.25,17 16.37,12 16.5,18 16.62,11 16.75,14 16.87,10 17,15 17.12,9 17.25,12 17.37,9 17.5,11 17.62,8 17.75,10 17.87,8 18,7.5 18.12,6.5 18.25,6 18.37,5 18.5,4.5 18.62,3.5 18.75,2.5 18.87,2 19,1.8 19.12,2 19.25,2.5 19.37,3.5 19.5,4.5 19.62,4 19.75,5 19.87,4 20,4 20.12,3.5 20.25,4.5 20.37,5.5 20.5,6.5 20.6,7 20.7,5.5 20.8,5 20.9,4 21,3 21.12,1.5 21.25,1.2 21.37,1.8 21.5,2 21.62,2.5 21.75,2.3 21.87,2.8 22,2.6 22.25,3 22.5,2.7 22.75,3 23,2.6 23.12,2.8 23.25,3 23.35,8 23.42,10.5 23.5,9.5 23.6,8 23.7,7 23.8,6 23.9,6.5 24,4"/>
<polyline class="k" stroke-width="1.8" points="0,7.5 0.25,7.8 0.5,7.3 0.75,7.6 0.87,8.3 1,9 1.25,7.5 1.5,8 1.75,7 2,7.5 2.25,8.5 2.5,7.8 2.75,8.5 3,9.2 3.25,8.5 3.5,7.2 3.75,6.8 4,6.5 4.25,7 4.5,6.8 4.75,6.6 5,6.3 5.25,6.2 5.5,6.5 5.75,6.1 6,6.5 6.25,6.8 6.5,6.3 6.75,6.2 7,6.5 7.25,7 7.5,7.8 7.75,8.5 8,7.5 8.25,8.5 8.5,9 8.75,7.5 9,7 9.25,6.5 9.5,6.8 9.75,8 10,7.2 10.25,8 10.5,6 10.75,7.5 11,6 11.25,8 11.5,7 11.75,5.5 12,8.5 12.25,8.3 12.5,9 12.75,6 13,8 13.25,9 13.5,9.5 13.75,10 14,9 14.25,10.5 14.5,9.5 14.75,11 15,12 15.25,10.5 15.5,10 15.75,10.8 16,9.5 16.25,10 16.5,11 16.75,9 17,9.2 17.25,8.7 17.5,9 17.75,6.5 18,6 18.25,5 18.5,4 18.75,2.5 19,1.5 19.25,2 19.5,3 19.75,3.8 20,2.8 20.25,3.5 20.5,4.2 20.75,3 21,1 21.25,1.5 21.5,2 21.75,2.5 22,2.3 22.25,2.7 22.5,2.2 22.75,2.5 23,2 23.25,2.2 23.4,6 23.5,6 23.75,4 24,3.5"/>
</g>
<rect x="69" y="4266" width="856" height="377" class="k"/>
<g font-size="15" text-anchor="end">
<text x="58" y="4648">0</text><text x="58" y="4573">10</text><text x="58" y="4497">20</text><text x="58" y="4422">30</text><text x="58" y="4346">40</text><text x="58" y="4271">50</text>
</g>
<g font-size="15" text-anchor="middle">
<text x="94" y="4668">00:00</text><text x="160.2" y="4668">02:00</text><text x="226.3" y="4668">04:00</text><text x="292.5" y="4668">06:00</text><text x="358.6" y="4668">08:00</text><text x="424.8" y="4668">10:00</text><text x="491" y="4668">12:00</text><text x="557.1" y="4668">14:00</text><text x="623.3" y="4668">16:00</text><text x="689.4" y="4668">18:00</text><text x="755.6" y="4668">20:00</text><text x="821.8" y="4668">22:00</text>
<text x="127.1" y="4686">01:00</text><text x="193.2" y="4686">03:00</text><text x="259.4" y="4686">05:00</text><text x="325.6" y="4686">07:00</text><text x="391.7" y="4686">09:00</text><text x="457.9" y="4686">11:00</text><text x="524" y="4686">13:00</text><text x="590.2" y="4686">15:00</text><text x="656.4" y="4686">17:00</text><text x="722.5" y="4686">19:00</text><text x="788.7" y="4686">21:00</text><text x="854.8" y="4686">23:00</text>
<text x="497" y="4706" font-size="17">Time (GMT)</text>
</g>
<text class="s" font-size="16" text-anchor="middle" transform="translate(25,4455) rotate(-90)">Speed (knots)</text>
<text x="163" y="4252" font-size="27" textLength="295" lengthAdjust="spacingAndGlyphs">Wokingham,  31 August 2009</text>
<text x="500" y="4252" font-size="24" textLength="104" lengthAdjust="spacingAndGlyphs">Wind speed</text>
<rect x="714" y="4225" width="176" height="57" fill="#555"/>
<rect x="711" y="4222" width="176" height="57" fill="#fff" stroke="#000"/>
<line x1="716" y1="4240" x2="731" y2="4240" stroke="#000" stroke-width="3"/>
<text x="741" y="4246" font-size="18" textLength="136" lengthAdjust="spacingAndGlyphs">10 Min mean speed</text>
<line x1="716" y1="4266" x2="731" y2="4266" stroke="#000" stroke-width="1"/>
<text x="741" y="4272" font-size="18">Gusts</text>
</svg>
</body></html>
